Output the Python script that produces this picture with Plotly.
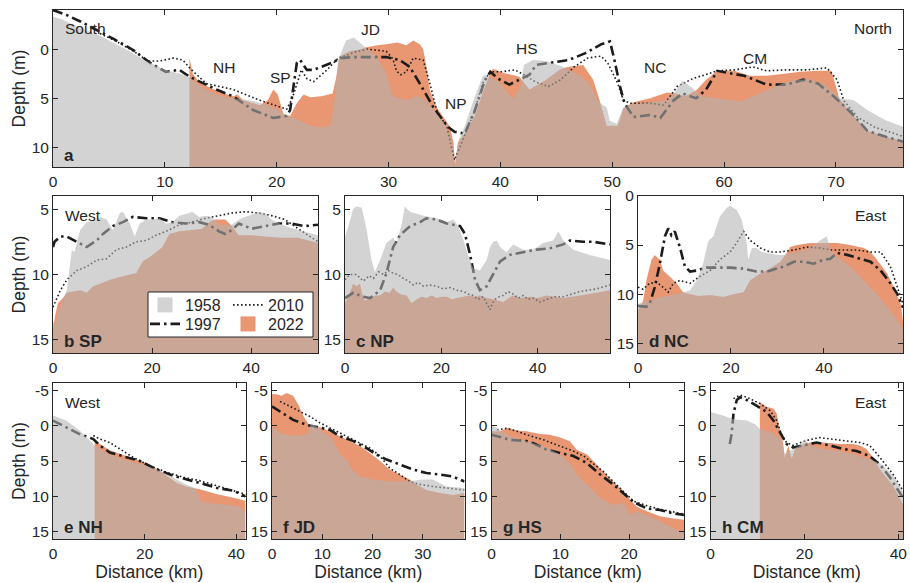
import plotly.graph_objects as go

# ======================= DATA (km, depth m) =======================
# ---- panel a : along-estuary profile ----
a_x_1958 = [0, 0.9, 2, 3, 4.2, 5, 6, 7, 8, 8.7, 10, 11, 12, 13, 14, 15, 16, 17, 18, 19, 20, 21, 21.3, 22, 23,
            24, 24.8, 25.2, 25.5, 26.2, 26.9, 27.5, 28.1, 28.9, 29.8, 30.4, 31.6, 32.5, 33.4, 34.3, 35.2, 35.7,
            35.9, 36.3, 36.8, 37.6, 38.4, 38.6, 39.2, 39.9, 40.6, 41.2, 41.8, 42.1, 42.9, 44.1, 45.4, 46, 47, 48,
            48.8, 49.2, 49.5, 49.8, 50.4, 51.0, 51.9, 53.5, 54.9, 55.5, 56.3, 57.2, 58, 58.7, 60, 61.5, 63, 64.5,
            66, 67.5, 69, 70.0, 70.4, 71.6, 72.8, 74.4, 76]
a_y_1958 = [-3.3, -3.0, -2.4, -1.9, -1.4, -0.9, -0.3, 0.3, 1.0, 1.4, 2.1, 2.4, 2.7, 3.6, 4.3, 4.8, 5.0, 5.1, 5.3,
            5.6, 6.1, 6.8, 6.9, 7.2, 7.8, 8.0, 7.8, 5.0, 1.1, -0.9, -1.2, -0.6, 0.0, 0.6, 2.5, 4.8, 5.2, 4.8, 5.2,
            6.6, 7.9, 9.6, 11.9, 9.2, 7.9, 5.2, 2.8, 2.6, 3.0, 3.3, 4.4, 5.0, 3.8, 1.6, 1.1, 1.2, 1.7, 2.0, 2.6,
            3.6, 5.4, 5.7, 5.9, 7.3, 7.6, 5.9, 5.6, 5.4, 5.2, 4.5, 3.2, 4.0, 4.8, 4.9, 5.1, 5.3, 4.6, 3.8, 3.2,
            3.0, 3.6, 4.6, 5.0, 5.2, 6.2, 7.2, 7.9]
a_x_2022 = [12.2, 12.5, 13.1, 14, 15, 16.1, 16.5, 17, 18.5, 19.2, 19.7, 20.1, 20.6, 21.2, 21.8, 22.4, 23, 24, 25,
            25.3, 25.6, 26.5, 27.5, 28, 29, 29.8, 30.8, 31.6, 32.2, 32.8, 33.1, 33.4, 33.7, 34.3, 35.5, 35.8,
            35.95, 36.2, 36.6, 37.0, 37.7, 38.4, 38.9, 39.3, 39.6, 40.2, 41, 41.7, 42.6, 44.1, 45.3, 46, 47.4,
            48.3, 48.9, 49.5, 50.5, 51, 51.9, 53.4, 54.9, 55.7, 56.5, 57.5, 58.4, 59.4, 60.9, 62.3, 63.8, 65.4,
            66.8, 68.4, 69.6, 70.3, 71.1, 72.8, 74.4, 76]
a_y_2022 = [0.9, 2.5, 3.4, 3.9, 4.4, 4.8, 4.6, 5.2, 5.7, 5.2, 4.1, 4.6, 6.6, 6.8, 5.5, 4.6, 4.9, 4.8, 4.5, 3.0, 0.8,
            0.2, 0.0, -0.2, -0.4, -0.5, -0.7, -0.4, -0.9, -0.5, 0.0, 1.8, 4.2, 5.9, 7.9, 9.5, 11.8, 9.5, 8.9, 8.3,
            6.8, 4.5, 3.0, 2.0, 2.1, 2.4, 2.6, 2.8, 4.1, 3.1, 2.1, 1.8, 1.6, 3.1, 5.3, 7.8, 7.8, 6.0, 5.4, 5.0,
            4.4, 4.5, 4.8, 4.2, 3.1, 2.2, 2.2, 2.7, 2.7, 2.5, 2.3, 2.2, 2.2, 5.0, 6.2, 8.3, 8.9, 9.4]
a_x_1997 = [0, 1.2, 2.5, 4.2, 5.5, 7.2, 8.7, 10.1, 11.3, 12.2, 13.5, 14.6, 16.1, 17.9, 19.7, 20.9, 21.2, 21.5,
            21.8, 22.1, 22.7, 23.3, 24.2, 25.1, 25.7, 27, 28.1, 29.8, 31.0, 31.9, 32.8, 34.0, 35.3, 35.9, 36.8,
            37.7, 38.6, 39.1, 39.8, 40.8, 41.7, 42.6, 43.2, 44.9, 46.1, 47.6, 49.0, 49.8, 50.2, 50.7, 51.1, 51.9,
            53.4, 54.3, 55.5, 56.3, 57.5, 58.4, 59.4, 60.3, 61.8, 63.8, 65.6, 67.1, 68.4, 69.8, 71.4, 72.8, 74.4, 76]
a_y_1997 = [-4.0, -3.5, -2.8, -1.8, -1.0, 0.1, 1.4, 2.3, 2.1, 2.8, 3.5, 4.1, 4.8, 6.2, 7.0, 6.8, 6.2, 3.8, 1.4,
            1.1, 2.1, 2.1, 1.7, 1.3, 0.9, 0.8, 0.8, 0.8, 1.1, 1.8, 3.5, 5.9, 7.9, 8.4, 8.6, 6.3, 3.2, 2.3, 3.0,
            3.6, 3.1, 2.6, 1.6, 1.3, 1.1, 0.4, -0.5, -0.8, 1.1, 3.8, 5.5, 6.9, 6.7, 7.0, 5.2, 4.5, 5.0, 4.1,
            2.2, 2.4, 2.7, 3.6, 3.6, 3.1, 3.5, 4.8, 6.5, 8.3, 8.9, 9.4]
a_x_2010 = [4.2, 5.5, 7.2, 8.5, 9.5, 10.8, 11.6, 12.3, 13.7, 16.1, 18.5, 20.9, 21.4, 22.2, 22.7, 23.3, 24.5, 25.5,
            27, 28.1, 29.8, 30.4, 30.7, 31.1, 31.6, 32.2, 33.1, 33.7, 34.3, 35.2, 35.9, 36.5, 37.7, 38.4, 39.1,
            40.1, 41.3, 42.1, 43.1, 44.3, 45.4, 46.6, 47.8, 49.0, 49.6, 50.5, 51.0, 51.6, 53.4, 54.6, 55.8, 57.2,
            58.4, 59.4, 60.9, 62.6, 63.8, 65.6, 67.4, 69.2, 70.1, 70.7, 71.9, 73.4, 76]
a_y_2010 = [-1.6, -0.9, 0.2, 1.2, 1.2, 0.9, 1.1, 2.0, 3.5, 4.1, 5.2, 6.1, 5.0, 2.1, 3.0, 3.3, 2.1, 0.9, 0.3, 0.0,
            0.2, 1.0, 2.2, 2.6, 2.3, 0.9, 1.1, 3.5, 6.2, 7.9, 11.3, 9.6, 6.3, 3.5, 2.3, 2.3, 2.1, 2.6, 3.3, 3.8,
            3.1, 1.8, 0.9, 0.7, 1.4, 3.5, 5.2, 5.5, 5.5, 5.7, 3.8, 3.0, 2.6, 2.2, 2.1, 1.8, 2.2, 2.1, 2.1, 1.9,
            3.1, 5.2, 6.9, 7.9, 8.9]
a_sites = ['NH', 'SP', 'JD', 'NP', 'HS', 'NC', 'CM']
a_site_km = [15.3, 20.3, 28.4, 36.0, 42.4, 53.8, 62.8]
a_site_depth = [1.9, 2.9, -2.0, 5.5, -0.1, 1.9, 0.9]

# ---- panel b : SP ----
b_x_1958 = [0, 0.4, 1.1, 2.8, 3.8, 4.3, 5.5, 6.8, 8.8, 9.5, 10.8, 12.1, 13.5, 14.1, 15.5, 16.5, 17.5, 18.8, 20.1,
            21.5, 22.8, 24.1, 25.5, 27.5, 28.1, 29.5, 30.8, 32.1, 33.5, 36.1, 37.5, 39.5, 41.5, 42.8, 44.1, 46.8,
            49.5, 53.5]
b_y_1958 = [13.5, 14.0, 12.7, 11.2, 8.1, 8.3, 6.6, 6.0, 5.8, 5.6, 5.8, 6.6, 5.3, 5.2, 6.1, 7.1, 6.1, 5.8, 5.8,
            5.7, 6.1, 6.0, 5.5, 5.3, 5.2, 5.6, 5.5, 5.6, 6.2, 6.2, 5.8, 5.5, 5.2, 5.3, 5.8, 6.3, 6.6, 7.0]
b_x_2022 = [0, 0.5, 1.0, 2.0, 2.8, 4, 5.5, 6.8, 8.1, 9.5, 11.5, 13.5, 15.5, 16.8, 18.1, 20.1, 22.1, 23.5, 25.5,
            28.1, 30.1, 31.5, 32.8, 34.8, 36.1, 37.5, 40.1, 42.8, 46.1, 49.5, 53.5]
b_y_2022 = [14.2, 13.0, 12.2, 11.8, 11.4, 11.3, 11.2, 11.4, 10.9, 10.7, 10.4, 10.2, 10.0, 9.9, 9.0, 8.5, 7.9, 6.9,
            6.7, 6.6, 6.5, 6.0, 5.8, 5.8, 6.3, 7.0, 7.0, 7.1, 7.2, 7.2, 7.6]
b_x_1997 = [0, 0.3, 1.5, 2.8, 4.8, 6.8, 8.8, 10.1, 12.1, 14.1, 16.1, 18.8, 21.5, 24.1, 26.8, 29.5, 31.5, 33.5,
            34.8, 36.1, 37.5, 40.1, 42.8, 45.5, 48.1, 50.8, 53.5]
b_y_1997 = [7.9, 7.5, 7.1, 7.1, 7.5, 7.9, 7.4, 6.9, 6.3, 6.0, 5.6, 5.7, 5.7, 6.0, 6.1, 6.0, 6.2, 6.7, 6.9, 6.6,
            6.1, 6.5, 6.3, 6.1, 6.1, 6.3, 6.2]
b_x_2010 = [0, 1.5, 2.8, 4.8, 6.8, 8.8, 10.8, 12.8, 14.8, 16.8, 18.8, 20.8, 22.8, 25.5, 28.1, 30.8, 33.5, 36.1,
            38.8, 41.5, 44.1, 46.8, 49.5, 53.5]
b_y_2010 = [12.5, 11.2, 10.4, 9.7, 9.4, 8.9, 8.8, 8.1, 7.9, 7.5, 7.4, 7.0, 6.7, 6.2, 6.0, 5.7, 5.5, 5.3, 5.2, 5.3,
            5.5, 5.8, 6.5, 7.5]

# ---- panel c : NP ----
c_x_1958 = [0, 0.7, 1.7, 2.4, 3.5, 4.5, 5.5, 6.2, 7.3, 8.6, 10, 10.7, 11.8, 12.4, 13.5, 16.3, 19, 21.1, 22.5,
            23.5, 24.6, 25.6, 26.6, 28, 29.4, 30.1, 30.8, 31.5, 32.2, 33.5, 34.9, 37, 39.1, 41.1, 43.2, 44.3,
            45.3, 47.4, 50.8, 55]
c_y_1958 = [7.1, 6.3, 5.0, 4.8, 4.9, 6.6, 8.9, 9.8, 8.9, 7.6, 7.2, 7.6, 6.1, 4.8, 5.2, 5.5, 5.7, 6.0, 5.8, 6.3,
            7.4, 8.6, 9.5, 9.7, 8.9, 7.9, 7.5, 7.4, 7.9, 8.3, 7.7, 8.1, 8.1, 7.6, 7.4, 6.7, 7.4, 8.1, 8.5, 8.9]
c_x_2022 = [0, 0.8, 1.7, 2.4, 3.1, 3.6, 4.1, 5.2, 6.2, 7.3, 8.3, 9.3, 10.0, 10.7, 11.5, 12.8, 13.8, 14.9, 15.9,
            16.9, 18.0, 19, 20, 21.1, 22.2, 23.2, 24.5, 25.9, 27, 28, 29.4, 30.8, 31.8, 32.8, 34, 34.9, 36.5,
            38.4, 40, 41.8, 43.5, 45.3, 47, 48.8, 50.5, 52.2, 55]
c_y_2022 = [12.2, 11.6, 10.7, 10.9, 10.7, 11.5, 12.0, 11.8, 11.6, 11.6, 11.3, 11.4, 11.0, 11.3, 11.5, 11.6, 12.2,
            11.9, 11.7, 11.8, 11.6, 11.8, 11.7, 11.7, 11.9, 11.8, 11.7, 11.6, 11.7, 11.6, 11.8, 11.9, 12.0, 12.1,
            11.8, 11.6, 11.8, 11.7, 11.8, 11.6, 11.7, 11.8, 11.7, 11.6, 11.5, 11.4, 11.2]
c_x_1997 = [0, 1.7, 3.8, 5.2, 7.3, 8.6, 10, 11.4, 13.5, 15.6, 16.9, 19, 21.1, 23.9, 24.9, 25.9, 27, 28, 29.4,
            30.8, 32.2, 34.2, 37, 39.8, 42.5, 45.3, 46.7, 49.4, 51.5, 52.9, 55]
c_y_1997 = [11.8, 11.4, 11.7, 11.8, 11.2, 9.9, 7.9, 7.0, 6.3, 6.0, 5.7, 5.8, 6.1, 6.3, 6.9, 8.4, 10.4, 11.2,
            10.9, 9.9, 9.0, 8.5, 8.3, 8.1, 8.0, 7.7, 7.4, 7.5, 7.5, 7.6, 7.7]
c_x_2010 = [0, 1, 2.4, 3.8, 5, 5.9, 7, 8, 9, 10, 11, 12.1, 13.2, 14.2, 15.2, 16.3, 17.5, 19, 20.4, 21.8, 23.2,
            24.6, 25.6, 26.6, 27.6, 28.7, 29.4, 30.1, 30.6, 31.1, 32, 32.8, 33.8, 34.9, 36, 37, 38, 39.1, 40.4,
            41.8, 43.5, 45.3, 47, 48.8, 50.5, 52.2, 55]
c_y_2010 = [10.4, 10.0, 10.0, 10.5, 10.1, 10.3, 9.8, 10.0, 9.7, 9.9, 10.0, 10.3, 10.5, 10.8, 10.6, 10.9, 10.8,
            10.9, 11.1, 11.0, 11.2, 11.3, 11.5, 11.6, 11.9, 11.7, 12.2, 12.7, 12.2, 11.9, 11.7, 11.6, 11.3, 11.5,
            11.8, 11.6, 11.9, 11.8, 12.1, 11.9, 11.7, 11.7, 11.5, 11.3, 11.2, 11.1, 10.8]

# ---- panel d : NC ----
d_x_1958 = [0, 4.7, 8.3, 11.2, 12.6, 14, 15.1, 16.2, 17.6, 19.1, 19.8, 21.2, 22.3, 23.4, 23.7, 24.5, 25.5, 26.6,
            27.7, 29.9, 31.3, 34.2, 37, 39.2, 40.6, 41.4, 42.8, 45.7, 48.6, 51.4, 54.3, 57]
d_y_1958 = [11.0, 10.3, 10.0, 9.6, 8.6, 6.9, 4.6, 4.1, 2.1, 1.2, 1.0, 1.4, 2.4, 4.8, 6.5, 5.3, 5.3, 5.7, 5.8,
            6.0, 6.0, 5.7, 5.3, 4.5, 4.1, 5.5, 6.2, 7.2, 8.6, 10.0, 11.7, 13.5]
d_x_2022 = [0, 0.5, 1.1, 1.8, 2.9, 3.6, 4.7, 5.4, 6.8, 8.3, 9.7, 11.2, 13, 15.5, 18.3, 20.5, 22.7, 24.1, 26.3,
            28.4, 30.6, 32, 32.7, 34.2, 37, 39.9, 42.8, 45.7, 48.6, 50, 51.4, 53.6, 55, 56.5, 57]
d_y_2022 = [11.7, 11.2, 10.7, 8.6, 6.5, 6.0, 6.5, 7.6, 8.2, 8.9, 9.8, 10.0, 10.2, 10.1, 10.3, 10.0, 9.8, 8.6,
            7.9, 7.4, 6.7, 5.8, 5.2, 5.0, 4.8, 4.8, 4.8, 5.0, 5.3, 5.7, 6.5, 7.9, 9.3, 11.0, 12.8]
d_x_1997 = [0, 1.8, 2.5, 3.6, 4.7, 5.8, 6.5, 7.2, 7.9, 9, 10.1, 11.2, 12.6, 14.7, 16.9, 19.8, 22.7, 25.5, 27.7,
            29.9, 31.3, 33.5, 35.6, 37.8, 39.9, 41.4, 42.8, 45, 47.8, 50, 52.2, 54.3, 55.8, 57]
d_y_1997 = [11.2, 11.3, 11.0, 9.3, 6.9, 4.1, 3.3, 4.0, 3.6, 5.2, 7.2, 7.7, 7.6, 7.3, 7.3, 7.3, 7.4, 7.7, 7.7,
            7.4, 7.2, 6.7, 6.7, 6.9, 6.5, 6.4, 5.8, 6.0, 6.4, 6.7, 7.6, 8.9, 10.0, 11.4]
d_x_2010 = [0, 1.1, 2.5, 4, 5.4, 6.5, 7.6, 9, 11.2, 13.3, 15.5, 17.6, 19.8, 21.2, 22.7, 24.1, 26.3, 28.4, 30.6,
            33.5, 36.3, 39.2, 41.4, 44.2, 47.1, 50, 52.2, 54.3, 55.8, 57]
d_y_2010 = [9.3, 9.5, 8.9, 8.8, 9.3, 9.8, 8.9, 8.6, 8.9, 8.2, 7.6, 6.5, 5.7, 4.8, 3.6, 4.5, 5.3, 5.7, 5.7, 5.5,
            5.2, 5.3, 5.5, 5.5, 5.5, 5.7, 5.7, 7.2, 9.3, 11.0]

# ---- panel e : NH ----
e_x_1958 = [0, 2.9, 5.8, 8, 9.1, 12, 16, 20, 24, 27, 29, 31, 32.5, 35, 38, 40, 41.5, 42]
e_y_1958 = [-1.4, -0.7, 0.7, 2.1, 2.8, 4.0, 4.9, 5.6, 6.6, 7.6, 8.3, 8.8, 10.8, 11.0, 11.2, 11.3, 11.8, 12.6]
e_x_2022 = [9.1, 10.2, 12.4, 16, 19, 21, 23.4, 25, 27, 29, 32, 35.8, 39.4, 42]
e_y_2022 = [1.9, 2.6, 3.5, 4.3, 5.0, 5.5, 6.4, 7.2, 8.1, 8.6, 9.0, 9.7, 10.2, 10.6]
e_x_1997 = [0, 2.9, 5.8, 8.8, 10.2, 12.4, 16.1, 19, 22.6, 26.3, 29.2, 32.1, 35.8, 39.4, 42]
e_y_1997 = [-0.7, 0.2, 1.2, 1.9, 2.8, 3.8, 4.5, 5.0, 6.2, 7.1, 7.6, 8.1, 8.8, 9.2, 10.0]
e_x_2010 = [8.8, 10.2, 12.4, 14.6, 17.5, 21.2, 24.8, 28.5, 32.1, 35.8, 39.4, 42]
e_y_2010 = [1.4, 1.9, 2.4, 3.3, 4.5, 5.7, 6.6, 7.3, 7.8, 8.5, 9.2, 9.7]

# ---- panel f : JD ----
f_x_1958 = [0, 2, 4, 6, 7, 7.8, 9, 10, 12, 13.5, 15, 16.2, 17.5, 20, 24, 28, 30, 32, 34.7, 38.3]
f_y_1958 = [0.2, 1.2, 1.4, 1.4, 1.2, -0.3, 0.2, 0.8, 1.9, 4.0, 5.0, 6.4, 7.2, 7.6, 7.9, 7.8, 7.6, 7.6, 8.6, 8.8]
f_x_2022 = [0, 0.9, 1.9, 2.9, 4.2, 5.2, 6.2, 7.2, 8, 9.5, 11.5, 13.5, 15.5, 17.5, 19.5, 21.5, 23.4, 25.4, 27.4,
            28.7, 30.7, 33.4, 36, 38.3]
f_y_2022 = [-4.4, -4.4, -4.2, -4.6, -4.2, -3.0, -1.4, -0.3, 0.4, 0.2, 0.8, 1.5, 2.2, 2.9, 3.9, 5.0, 6.2, 6.9, 7.6,
            8.3, 9.1, 9.5, 9.8, 9.5]
f_x_1997 = [0, 2.3, 4.2, 6.9, 9.5, 11.5, 13.5, 16.2, 18.8, 20.8, 22.8, 25.4, 28.1, 30.7, 33.4, 36, 38.3]
f_y_1997 = [-2.7, -1.6, -0.8, -0.1, 0.3, 0.6, 1.5, 2.2, 3.2, 4.1, 4.8, 5.5, 6.2, 6.7, 6.9, 7.2, 7.9]
f_x_2010 = [1.6, 3.6, 5.6, 7.5, 9.5, 12.2, 14.8, 17.5, 19.5, 21.5, 23.4, 25.4, 27.4, 29.4, 32, 34.7, 38.3]
f_y_2010 = [-3.4, -2.7, -2.0, -1.3, -0.4, 0.6, 1.5, 2.5, 3.2, 4.3, 6.0, 6.9, 7.9, 8.3, 8.6, 8.8, 9.1]

# ---- panel g : HS ----
g_x_1958 = [0, 1.2, 2.7, 5.1, 7.5, 10, 11.4, 12.4, 13.9, 15.8, 17.7, 19.2, 20.2, 21.1, 22.6, 24.5, 26.5, 28]
g_y_1958 = [-0.1, 0.6, 1.5, 2.2, 2.9, 4.1, 5.3, 6.9, 8.3, 10.2, 11.2, 10.9, 12.6, 12.1, 12.6, 13.5, 14.5, 15.2]
g_x_2022 = [0, 1.2, 2.4, 3.7, 5.1, 7.1, 8.5, 10, 11.4, 12.4, 13.9, 14.8, 16.3, 17.7, 19.2, 20.2, 21.1, 22.6,
            24.5, 26.5, 28]
g_y_2022 = [0.8, 0.8, 0.3, 0.7, 0.8, 1.2, 1.3, 1.7, 2.2, 3.4, 4.1, 5.0, 6.5, 7.9, 9.3, 10.5, 11.4, 12.1, 12.8,
            13.1, 13.3]
g_x_1997 = [0, 2.7, 5.1, 6.1, 8, 10, 11.9, 13.9, 15.8, 17.7, 19.2, 20.7, 22.6, 24.5, 26.5, 28]
g_y_1997 = [1.3, 2.0, 2.2, 2.5, 3.4, 3.9, 4.3, 5.3, 6.9, 8.3, 9.5, 10.8, 11.7, 11.9, 12.4, 12.6]
g_x_2010 = [0.8, 2.2, 3.7, 5.1, 7.5, 10, 11.9, 13.4, 14.8, 16.3, 17.7, 19.2, 20.7, 22.6, 24.5, 26.5, 28]
g_y_2010 = [0.6, 0.4, 0.8, 1.3, 2.0, 2.9, 3.6, 4.3, 5.3, 6.5, 7.9, 9.3, 10.7, 11.3, 11.8, 12.2, 12.5]

# ---- panel h : CM ----
h_x_1958 = [0, 2.7, 4.9, 7.7, 9.5, 10.5, 12.7, 14.1, 15.1, 15.8, 16.9, 17.6, 19, 20.1, 21.2, 24, 27.6, 30.4,
            33.2, 36.1, 38.9, 41]
h_y_1958 = [-1.9, -1.4, -0.9, -0.7, -0.2, 0.5, 0.9, 1.4, 2.1, 4.0, 3.6, 3.3, 2.8, 1.9, 2.8, 3.3, 3.6, 4.0, 4.6,
            5.3, 7.0, 9.3]
h_x_2022 = [10.5, 12, 13.4, 14.1, 14.8, 15.5, 15.8, 16.6, 17.3, 18, 19, 21.2, 24, 27.6, 30.4, 31.8, 33.2, 34.6,
            36.1, 38.9, 41]
h_y_2022 = [-3.3, -2.6, -2.4, -1.7, 0.7, 2.6, 4.5, 2.8, 4.7, 3.3, 2.8, 2.4, 2.4, 2.6, 2.6, 2.8, 3.3, 4.5, 6.2,
            8.5, 11.1]
h_x_1997 = [4.1, 4.5, 4.9, 5.6, 6.3, 7.7, 9.8, 12, 13.4, 14.8, 16.2, 17.6, 19.7, 22.6, 25.4, 28.3, 31.1, 33.9,
            36.1, 38.2, 41]
h_y_1997 = [2.6, 1.2, -1.7, -3.6, -4.0, -3.6, -2.8, -1.9, -0.7, 0.9, 2.6, 3.1, 2.8, 2.4, 2.8, 3.3, 3.6, 4.3, 5.5,
            7.3, 10.2]
h_x_2010 = [4.9, 6.3, 7.7, 10.5, 12.7, 14.1, 15.1, 16.2, 17.6, 20.4, 23.2, 26.1, 29, 31.8, 33.9, 36.1, 38.9, 41]
h_y_2010 = [-3.8, -4.3, -4.0, -3.1, -2.1, -0.7, 1.2, 2.4, 2.8, 2.1, 1.7, 1.9, 2.1, 2.4, 2.8, 4.5, 6.9, 9.2]

years = ['1958', '1997', '2010', '2022']
panel_names = ['a', 'b SP', 'c NP', 'd NC', 'e NH', 'f JD', 'g HS', 'h CM']
y_ticks_row3 = [-5, 0, 5, 10, 15]

# ======================= STYLE / LAYOUT =======================
W, H = 910, 583
FONT = 'Liberation Sans, Arial, Helvetica, sans-serif'
TXT = '#262626'
ORANGE = 'rgb(233,150,114)'
GRAY = 'rgba(178,178,178,0.57)'
LINEC = '#1c1c1c'

data = {
    'a': (a_x_1958, a_y_1958, a_x_1997, a_y_1997, a_x_2010, a_y_2010, a_x_2022, a_y_2022),
    'b': (b_x_1958, b_y_1958, b_x_1997, b_y_1997, b_x_2010, b_y_2010, b_x_2022, b_y_2022),
    'c': (c_x_1958, c_y_1958, c_x_1997, c_y_1997, c_x_2010, c_y_2010, c_x_2022, c_y_2022),
    'd': (d_x_1958, d_y_1958, d_x_1997, d_y_1997, d_x_2010, d_y_2010, d_x_2022, d_y_2022),
    'e': (e_x_1958, e_y_1958, e_x_1997, e_y_1997, e_x_2010, e_y_2010, e_x_2022, e_y_2022),
    'f': (f_x_1958, f_y_1958, f_x_1997, f_y_1997, f_x_2010, f_y_2010, f_x_2022, f_y_2022),
    'g': (g_x_1958, g_y_1958, g_x_1997, g_y_1997, g_x_2010, g_y_2010, g_x_2022, g_y_2022),
    'h': (h_x_1958, h_y_1958, h_x_1997, h_y_1997, h_x_2010, h_y_2010, h_x_2022, h_y_2022),
}
for k, v in data.items():
    for i in range(0, 8, 2):
        assert len(v[i]) == len(v[i + 1]), (k, i, len(v[i]), len(v[i + 1]))

# pixel boxes: (left, right, top, bottom), x range, y range (bottom, top), x dtick, y ticks
specs = {
    'a': dict(box=(53, 903, 10, 167), xr=[0, 76], yr=[12, -4], xdt=10, yt=[0, 5, 10]),
    'b': dict(box=(53, 318, 196, 353), xr=[0, 53.5], yr=[16, 4], xdt=20, yt=[5, 10, 15]),
    'c': dict(box=(345, 610, 196, 353), xr=[0, 55], yr=[16, 4], xdt=20, yt=[5, 10, 15]),
    'd': dict(box=(638, 903, 196, 353), xr=[0, 57], yr=[16, 0], xdt=20, yt=[0, 5, 10, 15]),
    'e': dict(box=(53, 245.5, 383, 539), xr=[0, 42], yr=[16, -6], xdt=20, yt=y_ticks_row3),
    'f': dict(box=(272, 464.5, 383, 539), xr=[0, 38.3], yr=[16, -6], xdt=10, yt=y_ticks_row3),
    'g': dict(box=(491.5, 684, 383, 539), xr=[0, 28], yr=[16, -6], xdt=10, yt=y_ticks_row3),
    'h': dict(box=(710.5, 903, 383, 539), xr=[0, 41], yr=[16, -6], xdt=20, yt=y_ticks_row3),
}
keys = list(specs.keys())

fig = go.Figure()
layout = dict(template='none', width=W, height=H, margin=dict(l=0, r=0, t=0, b=0, pad=0, autoexpand=False),
              paper_bgcolor='white', plot_bgcolor='white', font=dict(family=FONT, size=15.5, color=TXT))
annotations = []

for idx, k in enumerate(keys, start=1):
    s = specs[k]
    xid = 'x' if idx == 1 else f'x{idx}'
    yid = 'y' if idx == 1 else f'y{idx}'
    xa = 'xaxis' if idx == 1 else f'xaxis{idx}'
    ya = 'yaxis' if idx == 1 else f'yaxis{idx}'
    l, r, t, b = s['box']
    common = dict(showline=True, linecolor=TXT, linewidth=1, mirror='ticks', ticks='inside', ticklen=5,
                  tickwidth=1, tickcolor=TXT, showgrid=False, zeroline=False, automargin=False,
                  tickfont=dict(family=FONT, size=15.5, color=TXT))
    layout[xa] = dict(domain=[l / W, r / W], range=s['xr'], anchor=yid, dtick=s['xdt'], tick0=0, **common)
    layout[ya] = dict(domain=[1 - b / H, 1 - t / H], range=s['yr'], anchor=xid, tickvals=s['yt'],
                      ticktext=[str(v) for v in s['yt']], **common)
    if k in ('e', 'f', 'g', 'h'):
        layout[xa]['title'] = dict(text='Distance (km)', font=dict(size=17.5, family=FONT, color=TXT), standoff=2)
    if k in ('a', 'b', 'e'):
        layout[ya]['title'] = dict(text='Depth (m)', font=dict(size=17.5, family=FONT, color=TXT), standoff=1)

    x58, y58, x97, y97, x10, y10, x22, y22 = data[k]
    base = s['yr'][0] + 3
    leg = (k == 'b')
    # 2022 (opaque, bottom layer)
    fig.add_trace(go.Scatter(x=list(x22) + [x22[-1], x22[0]], y=list(y22) + [base, base], fill='toself',
                             fillcolor=ORANGE, mode='none', xaxis=xid, yaxis=yid, showlegend=False,
                             hoverinfo='skip'))
    # 1997
    fig.add_trace(go.Scatter(x=x97, y=y97, mode='lines', name='1997', xaxis=xid, yaxis=yid,
                             line=dict(color=LINEC, width=2.6, dash='10px,4px,2.5px,4px'),
                             showlegend=leg, legend='legend2', hoverinfo='skip'))
    # 2010
    fig.add_trace(go.Scatter(x=x10, y=y10, mode='lines', name='2010', xaxis=xid, yaxis=yid,
                             line=dict(color=LINEC, width=1.6, dash='1.6px,2.4px'),
                             showlegend=leg, legend='legend3', hoverinfo='skip'))
    # 1958 (translucent gray on top)
    fig.add_trace(go.Scatter(x=list(x58) + [x58[-1], x58[0]], y=list(y58) + [base, base], fill='toself',
                             fillcolor=GRAY, mode='none', xaxis=xid, yaxis=yid, showlegend=False,
                             hoverinfo='skip'))

    # panel label
    annotations.append(dict(text=f'<b>{panel_names[idx - 1]}</b>', xref=f'{xid} domain', yref=f'{yid} domain',
                            x=0, y=0, xanchor='left', yanchor='middle', xshift=9, yshift=12,
                            showarrow=False, font=dict(size=17, family=FONT, color=TXT)))

# legend swatches (patch entries)
fig.add_trace(go.Scatter(x=[None], y=[None], mode='markers', name='1958', xaxis='x2', yaxis='y2',
                         marker=dict(symbol='square', size=15, color='rgb(211,211,211)', line=dict(width=0)),
                         legend='legend'))
fig.add_trace(go.Scatter(x=[None], y=[None], mode='markers', name='2022', xaxis='x2', yaxis='y2',
                         marker=dict(symbol='square', size=15, color=ORANGE, line=dict(width=0)),
                         legend='legend4'))

legfont = dict(family=FONT, size=16, color=TXT)
# (legend id, left px, top px)
leg_pos = [('legend', 145, 288), ('legend2', 145, 307), ('legend3', 228, 288), ('legend4', 228, 307)]
for lid, lx, ly in leg_pos:
    layout[lid] = dict(x=lx / W, y=1 - ly / H, xanchor='left', yanchor='top', bgcolor='rgba(0,0,0,0)',
                       font=legfont, itemsizing='trace', borderwidth=0)
layout['shapes'] = [dict(type='rect', xref='paper', yref='paper', x0=148 / W, x1=313 / W, y0=1 - 337 / H,
                         y1=1 - 292 / H, fillcolor='white', line=dict(color=TXT, width=1), layer='above')]

# site labels on panel a
for name, xk, yd in zip(a_sites, a_site_km, a_site_depth):
    annotations.append(dict(text=name, x=xk, y=yd, xref='x', yref='y', showarrow=False,
                            font=dict(size=15.5, family=FONT, color=TXT)))

# direction labels
dirs = [('South', 'x', 'y', 0, 'left', 10), ('North', 'x', 'y', 1, 'right', -9),
        ('West', 'x2', 'y2', 0, 'left', 10), ('East', 'x4', 'y4', 1, 'right', -14),
        ('West', 'x5', 'y5', 0, 'left', 10), ('East', 'x8', 'y8', 1, 'right', -14)]
for txt, xr_, yr_, xp, anc, sh in dirs:
    annotations.append(dict(text=txt, xref=f'{xr_} domain', yref=f'{yr_} domain', x=xp, y=1, xanchor=anc,
                            yanchor='middle', xshift=sh, yshift=-19, showarrow=False,
                            font=dict(size=15.5, family=FONT, color=TXT)))

layout['annotations'] = annotations
fig.update_layout(**layout)
fig.write_html('out.html', config={'displayModeBar': False},
               post_script="document.body.style.margin='0px';document.body.style.overflow='hidden';")
